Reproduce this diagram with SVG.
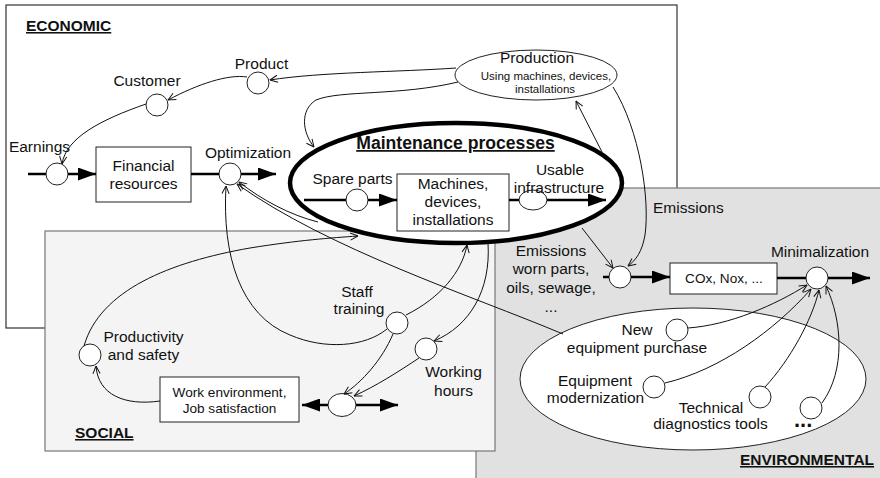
<svg xmlns="http://www.w3.org/2000/svg" width="880" height="478" viewBox="0 0 880 478">
<style>
text{font-family:"Liberation Sans",Arial,sans-serif;fill:#111}
.t{font-size:15.5px}
.m{text-anchor:middle}
.s{font-size:11.5px}
.b{font-size:13.6px}
.h{font-size:15.5px;font-weight:bold;text-decoration:underline}
.n{fill:#fff;stroke:#222;stroke-width:1}
.c{fill:none;stroke:#111;stroke-width:1;marker-end:url(#open)}
.f{fill:none;stroke:#000;stroke-width:2.5}
.fa{fill:none;stroke:#000;stroke-width:2.5;marker-end:url(#solid)}
</style>
<defs>
<marker id="open" viewBox="0 0 10 10" refX="9.5" refY="5" markerWidth="9" markerHeight="9" markerUnits="userSpaceOnUse" orient="auto">
<path d="M1,1 L9.5,5 L1,9" fill="none" stroke="#111" stroke-width="1.1"/>
</marker>
<marker id="solid" viewBox="0 0 18 13" refX="18" refY="6.5" markerWidth="18" markerHeight="13" markerUnits="userSpaceOnUse" orient="auto-start-reverse">
<path d="M0,0 L18,6.5 L0,13 z" fill="#000"/>
</marker>
</defs>

<g id="economic">
<rect x="6" y="5" width="671" height="323" fill="#fff" stroke="#333" stroke-width="1.2"/>
<text class="h" x="26" y="31">ECONOMIC</text>
</g>
<g id="environmental">
<rect x="476" y="188" width="420" height="300" fill="#e1e1e1" stroke="#777" stroke-width="1.2"/>
<text class="h" x="740" y="465">ENVIRONMENTAL</text>
</g>
<g id="social">
<rect x="45" y="231" width="450" height="220" fill="#f4f4f4" stroke="#777" stroke-width="1.2"/>
<text class="h" x="75" y="438">SOCIAL</text>
</g>

<g id="maintenance">
<ellipse cx="456" cy="183" rx="166" ry="60" fill="#fff" stroke="#000" stroke-width="4.5"/>
<text x="455.5" y="149" class="m" style="font-size:17.6px;font-weight:bold;text-decoration:underline">Maintenance processes</text>
</g>
<g id="production">
<ellipse cx="536" cy="75" rx="81" ry="25" class="n"/>
<text class="t m" x="537" y="63">Production</text>
<text class="s m" x="546" y="80">Using machines, devices,</text>
<text class="s m" x="545" y="93">installations</text>
</g>
<g id="env-measures">
<ellipse cx="693" cy="379" rx="173" ry="71" class="n"/>
</g>

<g id="earnings"><circle cx="57" cy="174" r="11" class="n"/><text class="t m" x="39.5" y="152">Earnings</text></g>
<g id="customer"><circle cx="157" cy="105" r="11" class="n"/><text class="t m" x="147" y="86">Customer</text></g>
<g id="product"><circle cx="258" cy="83" r="11" class="n"/><text class="t m" x="261.5" y="69">Product</text></g>
<g id="financial"><rect x="96" y="147" width="95" height="55" class="n"/><text class="t m" x="143.5" y="170.5">Financial</text><text class="t m" x="143.5" y="189">resources</text></g>
<g id="optimization"><circle cx="230" cy="174" r="11" class="n"/><text class="t m" x="248" y="158">Optimization</text></g>
<g id="spare-parts"><circle cx="357" cy="200" r="11" class="n"/><text class="t m" x="352.5" y="184">Spare parts</text></g>
<g id="machines"><rect x="397" y="174" width="112" height="57" class="n"/><text class="t m" x="453" y="189">Machines,</text><text class="t m" x="453" y="207">devices,</text><text class="t m" x="453" y="224.5">installations</text></g>
<g id="usable"><ellipse cx="533" cy="200" rx="14" ry="10" class="n"/><text class="t m" x="560" y="175">Usable</text><text class="t m" x="559" y="193">infrastructure</text></g>
<g id="emissions"><circle cx="620" cy="277" r="11" class="n"/><text class="t" x="653" y="213">Emissions</text><text class="t m" x="551" y="256">Emissions</text><text class="t m" x="551" y="274">worn parts,</text><text class="t m" x="551" y="293">oils, sewage,</text><text class="t m" x="551" y="312">...</text></g>
<g id="cox"><rect x="670" y="263" width="107" height="31" class="n"/><text class="b m" x="724" y="283">COx, Nox, ...</text></g>
<g id="minimalization"><circle cx="817" cy="278" r="11" class="n"/><text class="t m" x="820" y="257">Minimalization</text></g>
<g id="new-equipment"><circle cx="677" cy="330" r="11" class="n"/><text class="t m" x="637" y="335">New</text><text class="t m" x="637" y="353">equipment purchase</text></g>
<g id="modernization"><circle cx="654" cy="387" r="11" class="n"/><text class="t m" x="595" y="386">Equipment</text><text class="t m" x="595.5" y="403">modernization</text></g>
<g id="diagnostics"><circle cx="760" cy="397" r="11" class="n"/><text class="t m" x="711" y="413">Technical</text><text class="t m" x="710.5" y="429">diagnostics tools</text></g>
<g id="more"><circle cx="811" cy="408" r="11" class="n"/><text x="794" y="427" style="font-size:22px;font-weight:bold">...</text></g>
<g id="productivity"><circle cx="90" cy="355" r="11" class="n"/><text class="t m" x="143.5" y="342">Productivity</text><text class="t m" x="143.5" y="360">and safety</text></g>
<g id="work-environment"><rect x="160" y="377" width="139" height="45" class="n"/><text class="b m" x="229.5" y="397">Work environment,</text><text class="b m" x="229.5" y="413">Job satisfaction</text></g>
<g id="work-balance"><ellipse cx="342" cy="405" rx="14" ry="11.5" class="n"/></g>
<g id="staff-training"><circle cx="397" cy="323" r="11" class="n"/><text class="t m" x="357" y="297">Staff</text><text class="t m" x="359" y="314">training</text></g>
<g id="working-hours"><circle cx="426" cy="349" r="11" class="n"/><text class="t m" x="453.5" y="377">Working</text><text class="t m" x="453.5" y="396">hours</text></g>

<g id="connectors">
<path class="f" d="M28,174 L46,174"/>
<path class="fa" d="M68,174 L96,174"/>
<path class="f" d="M191,174 L219,174"/>
<path class="fa" d="M241,174 L276,174"/>
<path class="f" d="M304,200 L346,200"/>
<path class="fa" d="M368,200 L397,200"/>
<path class="f" d="M509,200 L519,200"/>
<path class="fa" d="M547,200 L606,200"/>
<path class="f" d="M603,277 L609,277"/>
<path class="fa" d="M631,277 L670,277"/>
<path class="f" d="M777,278 L806,278"/>
<path class="fa" d="M828,278 L870,278"/>
<path class="f" d="M302,405 L328,405" style="marker-start:url(#solid)"/>
<path class="fa" d="M356,405 L398,405"/>

<path class="c" d="M456,68 C400,72 320,72 270,80"/>
<path class="c" d="M247,77 C228,74 198,84 168,100"/>
<path class="c" d="M146,104 C100,120 66,138 62,164"/>
<path class="c" d="M458,82 C400,96 340,90 316,100 C300,110 302,132 314,147"/>
<path class="c" d="M602,152 L576,101"/>
<path class="c" d="M613,87 C640,130 650,200 645,235 C642,252 636,260 628,266"/>
<path class="c" d="M582,228 L613,268"/>
<path class="c" d="M318,222 C290,215 262,200 239,182"/>
<path class="c" d="M563,334 C470,295 330,250 237,184"/>
<path class="c" d="M387,329 C365,347 325,350 290,335 C240,315 222,255 226,186"/>
<path class="c" d="M84,346 C100,290 170,262 250,248 C300,240 330,238 358,236"/>
<path class="c" d="M160,401 C125,406 98,395 96,366"/>
<path class="c" d="M406,315 C440,298 462,272 467,245"/>
<path class="c" d="M393,334 C382,360 362,382 344,394"/>
<path class="c" d="M488,243 C491,290 470,326 434,341"/>
<path class="c" d="M419,358 C398,372 376,386 354,396"/>
<path class="c" d="M688,328 C730,325 775,305 807,285"/>
<path class="c" d="M665,383 C720,370 775,330 811,289"/>
<path class="c" d="M765,387 C790,360 812,320 819,290"/>
<path class="c" d="M822,403 C846,370 842,320 826,286"/>
</g>
</svg>
